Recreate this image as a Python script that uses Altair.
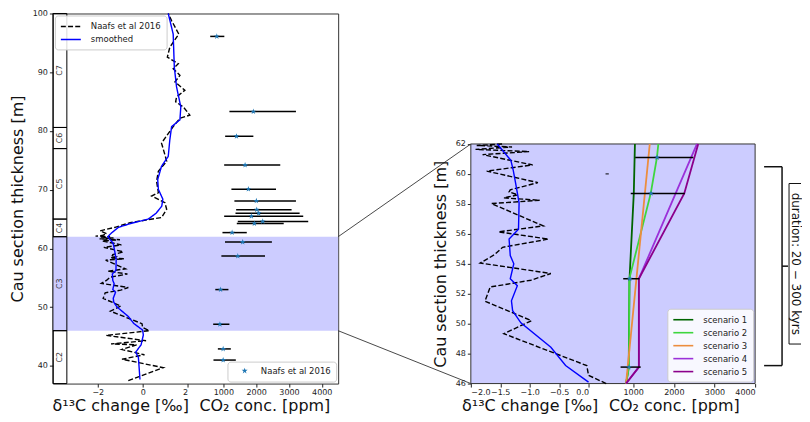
import altair as alt
import pandas as pd

FONT = "DejaVu Sans"

# ---------------- data ----------------
UNIT_NAMES = ["C2", "C3", "C4", "C5", "C6", "C7"]
UNIT_BOTTOM = [37, 46, 62, 65, 77, 80.6]
UNIT_TOP = [46, 62, 65, 77, 80.6, 100]

D13C_DEPTH = [37.5, 39.7, 41.15, 41.9, 42.8, 43.6, 43.75, 44.3, 45.2, 46.0, 46.55, 47.2, 49.33, 50.2,
              51.5, 52.45, 52.9, 53.35, 54.05, 54.6, 55.1, 55.65, 56.13, 56.53, 58.02, 58.24, 58.4,
              58.6, 58.8, 58.94, 59.42, 60.19, 60.6, 61.29, 61.49, 61.64, 61.8, 61.9, 62.0, 62.1,
              62.2, 62.5, 63.0, 63.6, 64.4, 64.9, 65.27, 66.67, 67.8, 68.92, 69.49, 71.45, 73.14,
              74.83, 75.96, 77.94, 80.74, 82.16, 82.7, 84.1, 84.97, 85.8, 86.94, 88.35, 89.48, 90.6,
              91.45, 92.57, 94.26, 96.5, 98.77, 100.0]
D13C_VALUE = [-0.64, 0.92, -0.92, 0.08, -0.93, -0.27, -1.41, 0.15, -1.63, 0.3, 0.0, -0.03, -1.44, -0.97,
              -1.76, -1.67, -0.98, -0.64, -1.84, -1.60, -1.46, -0.68, -1.53, -0.77, -1.65, -0.83, -1.44,
              -1.2, -1.35, -1.33, -0.86, -1.73, -0.95, -1.80, -1.01, -1.92, -1.3, -1.9, -1.45, -2.1,
              -1.82, -1.6, -1.9, -1.23, -0.56, 0.25, 0.84, 1.07, 0.99, 0.40, 0.70, 0.62, 0.70,
              1.07, 0.99, 0.84, 1.36, 1.66, 2.10, 1.81, 1.47, 1.51, 1.88, 1.44, 1.66, 1.36,
              1.59, 1.10, 1.21, 1.61, 1.29, 1.14]

SMOOTH_DEPTH = [37.7, 41.45, 42.35, 43.6, 45.27, 46.1, 47.21, 48.42, 50.06, 50.87, 51.53, 52.54, 53.0,
                54.0, 54.55, 55.65, 56.3, 58.07, 59.4, 60.26, 60.9, 62.0, 62.6, 63.6, 64.3, 65.0, 66.0,
                67.2, 68.4, 70.05, 71.74, 73.99, 75.68, 78.5, 80.74, 81.9, 84.1, 87.5, 90.9, 96.5, 100.0]
SMOOTH_VALUE = [-0.12, -0.19, -0.31, -0.07, 0.03, 0.0, -0.39, -0.64, -1.15, -1.29, -1.31, -1.21, -1.33,
                -1.27, -1.33, -1.35, -1.19, -1.18, -1.24, -1.28, -1.32, -1.55, -1.4, -1.08, -0.49, 0.25, 0.6,
                0.85, 0.9, 0.70, 0.67, 0.84, 1.14, 1.21, 1.29, 1.66, 1.70, 1.51, 1.41, 1.36, 1.14]

CO2_DEPTH = [96.1, 83.3, 79.1, 74.2, 70.1, 68.1, 66.6, 66.0, 65.5, 64.6, 64.25, 62.7, 61.1, 58.7, 53.0,
             47.1, 42.9, 41.0]
CO2_VALUE = [800, 1915, 1400, 1663, 1763, 2006, 2018, 2078, 1854, 2200, 1945, 1267, 1590, 1440, 915,
             895, 994, 994]
CO2_LOW = [600, 1185, 1055, 1025, 1246, 1337, 1390, 1370, 1025, 1440, 1410, 973, 1050, 940, 755,
           690, 833, 699]
CO2_HIGH = [1030, 3213, 1915, 2735, 2605, 3213, 3080, 3325, 3435, 3587, 2840, 1714, 2480, 2270, 1155,
            1185, 1228, 1380]

SMALL_DASH_DEPTH = [60.0]
SMALL_DASH_LOW = [320]
SMALL_DASH_HIGH = [400]

SCENARIOS = ["scenario 1", "scenario 2", "scenario 3", "scenario 4", "scenario 5"]
SCEN_COLORS = ["#006400", "#3ed63e", "#ec8d3e", "#9b30d9", "#8b008b"]
SCEN_DEPTHS = [[46, 47.1, 53, 58.7, 62],
               [46, 47.1, 53, 58.7, 61.1, 62],
               [46, 62],
               [46, 47.1, 53, 62],
               [46, 47.1, 53, 58.7, 62]]
SCEN_CO2 = [[825, 890, 910, 1015, 1043],
            [825, 898, 905, 1432, 1585, 1619],
            [825, 1408],
            [825, 1140, 1140, 2570],
            [825, 1140, 1140, 2257, 2600]]

ZOOM = [46, 62]
LEFT_DOMAIN = [37, 100]
DURATION_TEXT = "duration: 20 \u2212 300 kyrs"

STAR = ("M0,-1L0.2245,-0.309L0.9511,-0.309L0.3633,0.118L0.5878,0.809L0,0.382L-0.5878,0.809"
        "L-0.3633,0.118L-0.9511,-0.309L-0.2245,-0.309Z")
LINE_SYMBOL = "M-2,0H2"

# ---------------- layout constants ----------------
H = 371
LEFT_W = 286
CONN_W = 133
RIGHT_W = 285
BRACKET_W = 46
RIGHT_TOP_PX = 130.8

# ---------------- tables ----------------
df_d13 = pd.concat([
    pd.DataFrame({"depth": D13C_DEPTH, "value": D13C_VALUE, "series": "Naafs et al 2016"}),
    pd.DataFrame({"depth": SMOOTH_DEPTH, "value": SMOOTH_VALUE, "series": "smoothed"}),
], ignore_index=True)
df_d13_zoom = df_d13[(df_d13.depth >= ZOOM[0]) & (df_d13.depth <= ZOOM[1])]

df_co2 = pd.DataFrame({"depth": CO2_DEPTH, "co2": CO2_VALUE, "low": CO2_LOW, "high": CO2_HIGH,
                       "label": "Naafs et al 2016"})
df_co2_zoom = df_co2[(df_co2.depth >= ZOOM[0]) & (df_co2.depth <= ZOOM[1])]
df_small = pd.DataFrame({"depth": SMALL_DASH_DEPTH, "low": SMALL_DASH_LOW, "high": SMALL_DASH_HIGH})

df_units = pd.DataFrame({"name": UNIT_NAMES, "depth": UNIT_BOTTOM, "depth_top": UNIT_TOP,
                         "cx": 0.0, "cx2": 1.0})
df_unit_txt = pd.DataFrame({"name": UNIT_NAMES,
                            "depth": [(a + b) / 2 for a, b in zip(UNIT_BOTTOM, UNIT_TOP)],
                            "cx": 0.5})
df_zoom = pd.DataFrame({"depth": [ZOOM[0]], "depth_top": [ZOOM[1]]})

rows = []
for s, ds, vs in zip(SCENARIOS, SCEN_DEPTHS, SCEN_CO2):
    for d, v in zip(ds, vs):
        rows.append({"scenario": s, "depth": d, "co2": v})
df_scen = pd.DataFrame(rows)

# ---------------- helpers ----------------
def xaxis(title, values, fmt="d"):
    return alt.Axis(title=title, values=values, format=fmt, orient="bottom", domain=False,
                    grid=False, tickSize=3.5, labelFontSize=8, titleFontSize=16,
                    titleFontWeight="normal", titlePadding=2, labelPadding=1)


def yaxis(values):
    return alt.Axis(title="Cau section thickness [m]", values=values, format="d", domain=False,
                    grid=False, tickSize=3.5, labelFontSize=8, titleFontSize=16,
                    titleFontWeight="normal", titlePadding=7, labelPadding=2)


def line_legend(orient):
    return alt.Legend(title=None, orient=orient, offset=2, symbolType=LINE_SYMBOL, symbolSize=100,
                      symbolOffset=5, labelOffset=14, symbolStrokeWidth=1.6, labelFontSize=8.5,
                      rowPadding=2)


# ---------------- left panel ----------------
y_left = alt.Y("depth:Q", scale=alt.Scale(domain=LEFT_DOMAIN, nice=False, zero=False),
               axis=yaxis(list(range(40, 101, 10))))

shade = alt.Chart(df_zoom).mark_rect(color="#ccccff").encode(y=y_left, y2="depth_top:Q")

col_scale = alt.Scale(domain=[0, 1], range=[0, 14], nice=False, zero=False)
col_rects = alt.Chart(df_units).mark_rect(fill=None, fillOpacity=0, stroke="black", strokeWidth=1).encode(
    x=alt.X("cx:Q", scale=col_scale, axis=None), x2="cx2:Q", y=y_left, y2="depth_top:Q")
col_text = alt.Chart(df_unit_txt).mark_text(angle=270, fontSize=8, color="#333", font=FONT).encode(
    x=alt.X("cx:Q", scale=col_scale, axis=None), y=y_left, text="name:N")
col_layer = alt.layer(col_rects, col_text)

d13_legend = line_legend("top-left")
d13_left = alt.Chart(df_d13).mark_line(strokeWidth=1.4).encode(
    x=alt.X("value:Q", scale=alt.Scale(domain=[-4, 2], range=[0, 135], nice=False, zero=False),
            axis=xaxis("\u03b4\u00b9\u00b3C change [\u2030]", [-2, 0, 2])),
    y=y_left,
    order="depth:Q",
    color=alt.Color("series:N", scale=alt.Scale(domain=["Naafs et al 2016", "smoothed"],
                                                range=["black", "blue"]),
                    legend=d13_legend),
    strokeDash=alt.StrokeDash("series:N", scale=alt.Scale(domain=["Naafs et al 2016", "smoothed"],
                                                          range=[[5, 2.2], [1, 0]]),
                              legend=d13_legend),
)

co2_left_scale = alt.Scale(domain=[0, 4500], range=[138, 286], nice=False, zero=False)
co2_left_axis = xaxis("CO\u2082 conc. [ppm]", [1000, 2000, 3000, 4000])
err_left = alt.Chart(df_co2).mark_rule(color="black", strokeWidth=1.5).encode(
    x=alt.X("low:Q", scale=co2_left_scale, axis=co2_left_axis), x2="high:Q", y=y_left)
stars_left = alt.Chart(df_co2).mark_point(filled=True, size=38, opacity=1, color="#1f77b4").encode(
    x=alt.X("co2:Q", scale=co2_left_scale, axis=co2_left_axis), y=y_left,
    shape=alt.Shape("label:N", scale=alt.Scale(domain=["Naafs et al 2016"], range=[STAR]),
                    legend=alt.Legend(title=None, orient="bottom-right", offset=2, labelFontSize=8.5,
                                      symbolFillColor="#1f77b4", symbolStrokeColor="#1f77b4",
                                      symbolSize=40, symbolOffset=8, labelOffset=12)))
co2_left = alt.layer(err_left, stars_left)

left = alt.layer(shade, col_layer, d13_left, co2_left).resolve_scale(x="independent").properties(
    width=LEFT_W, height=H, view=alt.ViewBackground(stroke="#333", strokeWidth=1))

# ---------------- connector ----------------
top_equiv = LEFT_DOMAIN[1] - RIGHT_TOP_PX * (LEFT_DOMAIN[1] - LEFT_DOMAIN[0]) / H
df_conn = pd.DataFrame({"x0": [0, 0], "x1": [1, 1], "y0": [ZOOM[1], ZOOM[0]],
                        "y1": [top_equiv, LEFT_DOMAIN[0]]})
conn = alt.Chart(df_conn).mark_rule(color="#333", strokeWidth=0.9).encode(
    x=alt.X("x0:Q", scale=alt.Scale(domain=[0, 1], nice=False, zero=False), axis=None), x2="x1:Q",
    y=alt.Y("y0:Q", scale=alt.Scale(domain=LEFT_DOMAIN, nice=False, zero=False), axis=None), y2="y1:Q",
).properties(width=CONN_W, height=H, view=alt.ViewBackground(stroke=None))

# ---------------- right (zoom) panel ----------------
y_right = alt.Y("depth:Q", scale=alt.Scale(domain=ZOOM, range=[H, RIGHT_TOP_PX], nice=False, zero=False),
                axis=yaxis(list(range(46, 63, 2))))

frame = alt.Chart(df_zoom).mark_rect(fill="#ccccff", stroke="#333", strokeWidth=1).encode(
    y=y_right, y2="depth_top:Q")

x_d13_r = alt.X("value:Q", scale=alt.Scale(domain=[-2, 0], range=[0, 118], nice=False, zero=False),
                axis=xaxis("\u03b4\u00b9\u00b3C change [\u2030]", [-2, -1.5, -1, -0.5, 0], ".1f"))
d13_dash_r = alt.Chart(df_d13_zoom).transform_filter(alt.datum.series == "Naafs et al 2016").mark_line(
    color="black", strokeWidth=1.4, strokeDash=[5, 2.2]).encode(x=x_d13_r, y=y_right, order="depth:Q")
d13_smooth_r = alt.Chart(df_d13_zoom).transform_filter(alt.datum.series == "smoothed").mark_line(
    color="blue", strokeWidth=1.4).encode(x=x_d13_r, y=y_right, order="depth:Q")
d13_right = alt.layer(d13_dash_r, d13_smooth_r)

co2_r_scale = alt.Scale(domain=[0, 4000], range=[122, RIGHT_W], nice=False, zero=False)
co2_r_axis = xaxis("CO\u2082 conc. [ppm]", [1000, 2000, 3000, 4000])
scen_legend = line_legend("bottom-right")
scen = alt.Chart(df_scen).mark_line(strokeWidth=1.8).encode(
    x=alt.X("co2:Q", scale=co2_r_scale, axis=co2_r_axis), y=y_right, order="depth:Q",
    color=alt.Color("scenario:N", scale=alt.Scale(domain=SCENARIOS, range=SCEN_COLORS),
                    legend=scen_legend))
err_r = alt.Chart(df_co2_zoom).mark_rule(color="black", strokeWidth=1.5).encode(
    x=alt.X("low:Q", scale=co2_r_scale, axis=co2_r_axis), x2="high:Q", y=y_right)
small_r = alt.Chart(df_small).mark_rule(color="black", strokeWidth=1).encode(
    x=alt.X("low:Q", scale=co2_r_scale, axis=co2_r_axis), x2="high:Q", y=y_right)
stars_r = alt.Chart(df_co2_zoom).mark_point(filled=True, size=38, opacity=1, color="#1f77b4",
                                            shape=STAR).encode(
    x=alt.X("co2:Q", scale=co2_r_scale, axis=co2_r_axis), y=y_right)
co2_right = alt.layer(scen, err_r, small_r, stars_r)

right = alt.layer(frame, d13_right, co2_right).resolve_scale(x="independent").properties(
    width=RIGHT_W, height=H, view=alt.ViewBackground(stroke=None))

# ---------------- bracket + duration label ----------------
# x in pixels-from-panel-edge units (scale domain == range), y in axes fraction of the zoom panel
BR_X0, BR_X1, BR_TICK = 9, 27, 33
BOX_X0, BOX_X1 = 34, BRACKET_W
BR_Y0, BR_Y1, BR_YMID = 0.075, 0.905, 0.49
BOX_Y0, BOX_Y1 = 0.165, 0.835

df_br = pd.DataFrame({"x0": [BR_X0, BR_X0, BR_X1, BR_X1, BOX_X0, BOX_X0, BOX_X0],
                      "x1": [BR_X1, BR_X1, BR_X1, BR_TICK, BOX_X1, BOX_X1, BOX_X0],
                      "y0": [BR_Y1, BR_Y0, BR_Y0, BR_YMID, BOX_Y0, BOX_Y1, BOX_Y0],
                      "y1": [BR_Y1, BR_Y0, BR_Y1, BR_YMID, BOX_Y0, BOX_Y1, BOX_Y1],
                      "w": [1.5, 1.5, 1.5, 1.5, 1, 1, 1]})
df_box = pd.DataFrame({"x0": [BOX_X0], "x1": [BOX_X1], "y0": [BOX_Y0], "y1": [BOX_Y1]})
df_lab = pd.DataFrame({"x": [(BOX_X0 + BOX_X1) / 2 + 0.5], "y": [0.5], "text": [DURATION_TEXT]})
bx = alt.Scale(domain=[0, BRACKET_W], range=[0, BRACKET_W], nice=False, zero=False)
by = alt.Scale(domain=[0, 1], range=[H, RIGHT_TOP_PX], nice=False, zero=False)
br_box = alt.Chart(df_box).mark_rect(fill="white").encode(
    x=alt.X("x0:Q", scale=bx, axis=None), x2="x1:Q", y=alt.Y("y0:Q", scale=by, axis=None), y2="y1:Q")
br_lines = alt.Chart(df_br).mark_rule(color="#111").encode(
    x=alt.X("x0:Q", scale=bx, axis=None), x2="x1:Q", y=alt.Y("y0:Q", scale=by, axis=None), y2="y1:Q",
    strokeWidth=alt.StrokeWidth("w:Q", scale=None))
br_text = alt.Chart(df_lab).mark_text(angle=90, fontSize=12, font=FONT, color="#111",
                                      baseline="middle", align="center").encode(
    x=alt.X("x:Q", scale=bx, axis=None), y=alt.Y("y:Q", scale=by, axis=None), text="text:N")
bracket = alt.layer(br_box, br_lines, br_text).properties(
    width=BRACKET_W, height=H, view=alt.ViewBackground(stroke=None))

chart = alt.hconcat(left, conn, right, bracket, spacing=0, bounds="flush").resolve_scale(
    color="independent", strokeDash="independent", shape="independent"
).resolve_legend(
    color="independent", strokeDash="independent", shape="independent"
).properties(
    padding={"left": 0, "top": 0, "right": 0, "bottom": 0}
).configure(font=FONT).configure_view(stroke=None).configure_axis(
    labelFont=FONT, titleFont=FONT, labelColor="#222", titleColor="#111", tickColor="#222"
).configure_legend(
    labelFont=FONT, fillColor="rgba(255,255,255,0.85)", strokeColor="#cccccc", cornerRadius=3,
    padding=5, labelColor="#222"
)

chart.save("out.html", embed_options={"renderer": "svg", "actions": False})
